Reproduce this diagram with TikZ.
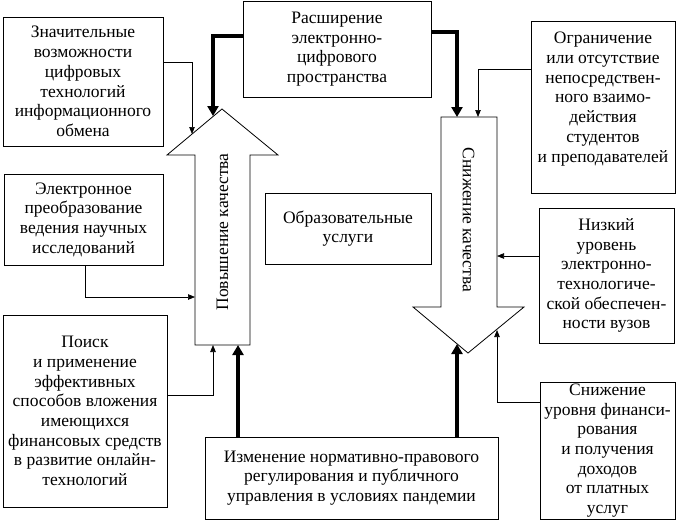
\documentclass[tikz,border=0pt]{standalone}
\usepackage{fontspec}
\setmainfont{LiberationSerif-Regular.ttf}[BoldFont=LiberationSerif-Bold.ttf]
\usetikzlibrary{arrows.meta}

\tikzset{
  factor/.style={draw, line width=0.8pt, align=center, inner sep=0pt,
    font=\rmfamily\fontsize{17.5}{19.7}\selectfont},
  weak/.style={line width=0.7pt, -{Triangle[length=7pt,width=5.5pt]}},
  strong/.style={line width=4.5pt, -{Triangle[length=10pt,width=11pt]}},
  bigarrow/.style={draw, line width=0.8pt, fill=white}
}

\begin{document}
\begin{tikzpicture}[x=1pt,y=-1pt]
\useasboundingbox (0,0) rectangle (677,520);

%--- Up arrow: quality growth ---
\draw[bigarrow] (222,109) -- (278,155) -- (250,155) -- (250,345)
  -- (195,345) -- (195,155) -- (167,155) -- cycle;
\node[rotate=90, font=\rmfamily\fontsize{17.5}{19.7}\selectfont] (upname) at (222.5,232) {Повышение качества};
\coordinate (upTip)  at (213,116); % thick input on the head
\coordinate (upEdge) at (192,134); % thin input on the head
\coordinate (upSide) at (195,297); % left side of the shaft
\coordinate (upBotL) at (213,345);
\coordinate (upBotR) at (238,345);

%--- Down arrow: quality decline ---
\draw[bigarrow] (441,117) -- (497,117) -- (497,307) -- (524,307)
  -- (468,353) -- (413,307) -- (441,307) -- cycle;
\node[rotate=-90, font=\rmfamily\fontsize{17.5}{19.7}\selectfont] (dnname) at (468.5,220) {Снижение качества};
\coordinate (dnTopL)  at (457,117);
\coordinate (dnTopR)  at (478,117);
\coordinate (dnSide)  at (497,256); % right side of the shaft
\coordinate (dnEdgeL) at (457,344); % thick input on the head
\coordinate (dnEdgeR) at (497,330); % thin input on the head

%--- Factor boxes ---
\node[factor, minimum width=160pt, minimum height=129pt] (znach) at (83,81.5)
  {Значительные\\возможности\\цифровых\\технологий\\информационного\\обмена};
\node[factor, minimum width=188pt, minimum height=96pt] (rassh) at (337,49)
  {Расширение\\электронно-\\цифрового\\пространства};
\node[factor, minimum width=144pt, minimum height=172pt] (ogran) at (603,107)
  {Ограничение\\или отсутствие\\непосредствен-\\ного взаимо-\\действия\\студентов\\и преподавателей\\\mbox{}};
\node[factor, minimum width=159pt, minimum height=91pt] (elektr) at (83.5,219.5)
  {Электронное\\преобразование\\ведения научных\\исследований};
\node[factor, minimum width=166pt, minimum height=71pt] (obraz) at (348,228.5)
  {Образовательные\\услуги};
\node[factor, minimum width=135pt, minimum height=135pt] (nizk) at (606.5,275.5)
  {Низкий\\уровень\\электронно-\\технологиче-\\ской обеспечен-\\ности вузов};
\node[factor, minimum width=164pt, minimum height=192pt] (poisk) at (85,411)
  {Поиск\\и применение\\эффективных\\способов вложения\\имеющихся\\финансовых средств\\в развитие онлайн-\\технологий};
\node[factor, minimum width=293pt, minimum height=82pt] (izmen) at (351.5,478)
  {Изменение нормативно-правового\\регулирования и публичного\\управления в условиях пандемии};
\node[factor, minimum width=135pt, minimum height=137pt] (snizh) at (607.5,450.5)
  {Снижение\\уровня финанси-\\рования\\и получения\\доходов\\от платных\\услуг};

%--- Thick links ---
\draw[strong] ([yshift=13pt]rassh.west) -| (upTip);
\draw[strong] ([yshift=17pt]rassh.east) -| (dnTopL);
\draw[strong] (upBotR |- izmen.north) -- (upBotR);
\draw[strong] (dnEdgeL |- izmen.north) -- (dnEdgeL);

%--- Thin links ---
\draw[weak] ([yshift=19.5pt]znach.east) -| (upEdge);
\draw[weak] ([xshift=2pt]elektr.south) |- (upSide);
\draw[weak] ([yshift=16pt]poisk.east) -| (upBotL);
\draw[weak] ([yshift=38pt]ogran.west) -| (dnTopR);
\draw[weak] (dnSide -| nizk.west) -- (dnSide);
\draw[weak] ([yshift=48.5pt]snizh.west) -| (dnEdgeR);

\end{tikzpicture}
\end{document}
